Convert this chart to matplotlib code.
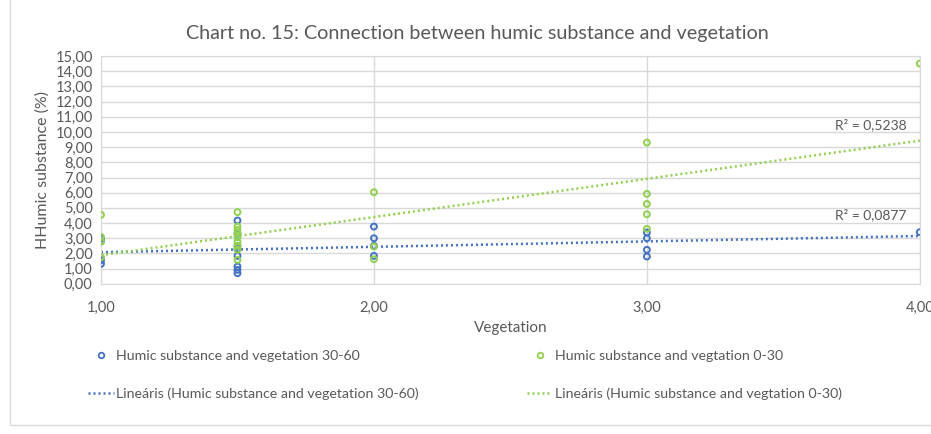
import matplotlib
matplotlib.use("Agg")
import matplotlib.pyplot as plt
import numpy as np
from matplotlib.lines import Line2D
from matplotlib.ticker import FuncFormatter, MultipleLocator

plt.rcParams["font.family"] = ["Lato", "DejaVu Sans"]

# ---------------- Data (some points hidden behind others) ----------------
veg_3060 = [1.0, 1.0, 1.0, 1.0, 1.5, 1.5, 1.5, 1.5, 1.5, 1.5, 1.5, 1.5,
            2.0, 2.0, 2.0, 2.0, 3.0, 3.0, 3.0, 3.0, 4.0]
hum_3060 = [1.55, 1.32, 3.00, 2.80, 4.17, 2.30, 1.84, 1.14, 0.92, 0.70, 3.30, 2.50,
            3.77, 3.00, 2.50, 1.84, 3.38, 3.00, 2.24, 1.80, 3.40]

veg_030 = [1.0, 1.0, 1.0, 1.0, 1.5, 1.5, 1.5, 1.5, 1.5, 1.5, 1.5, 1.5, 1.5,
           2.0, 2.0, 2.0, 3.0, 3.0, 3.0, 3.0, 3.0, 4.0]
hum_030 = [4.54, 3.08, 2.78, 1.75, 4.72, 3.77, 3.55, 3.33, 3.07, 2.78, 2.50, 2.24, 1.58,
           6.03, 2.45, 1.62, 9.30, 5.92, 5.26, 4.58, 3.62, 14.50]

r2_labels = ["R² = 0,0877", "R² = 0,5238"]

blue = "#4472C4"
green = "#92D050"
grey_txt = "#595959"
dots = (0, (0.8, 1.2))

fig = plt.figure(figsize=(9.31, 4.34), dpi=100)
ax = fig.add_axes([0.1085, 0.346, 0.8795, 0.525])

ax.scatter(veg_3060, hum_3060, s=18, facecolors="none", edgecolors=blue, linewidths=1.4, zorder=3)
ax.scatter(veg_030, hum_030, s=18, facecolors="none", edgecolors=green, linewidths=1.4, zorder=3)

# linear trend lines
xs = np.array([1.0, 4.0])
for vx, vy, c in [(veg_3060, hum_3060, blue), (veg_030, hum_030, green)]:
    k, b = np.polyfit(vx, vy, 1)
    ax.plot(xs, k * xs + b, color=c, lw=1.8, ls=dots, zorder=2)

ax.text(3.95, 4.55, r2_labels[0], ha="right", va="center", fontsize=10, color=grey_txt)
ax.text(3.95, 10.45, r2_labels[1], ha="right", va="center", fontsize=10, color=grey_txt)

ax.set_xlim(1, 4)
ax.set_ylim(0, 15)
ax.xaxis.set_major_locator(MultipleLocator(1))
ax.yaxis.set_major_locator(MultipleLocator(1))
fmt = FuncFormatter(lambda v, p: f"{v:.2f}".replace(".", ","))
ax.xaxis.set_major_formatter(fmt)
ax.yaxis.set_major_formatter(fmt)
ax.grid(True, color="#D9D9D9", lw=1)
ax.set_axisbelow(True)
for s in ax.spines.values():
    s.set_color("#D9D9D9")
ax.tick_params(length=0, labelsize=10.5, colors=grey_txt, pad=6)
ax.tick_params(axis="x", pad=12)

ax.set_xlabel("Vegetation", fontsize=11, color=grey_txt, labelpad=5)
ax.set_ylabel("HHumic substance (%)", fontsize=11.5, color=grey_txt, labelpad=4)
fig.text(0.513, 0.922, "Chart no. 15: Connection between humic substance and vegetation",
         ha="center", va="center", fontsize=14.2, color=grey_txt)

handles = [
    Line2D([], [], ls="none", marker="o", ms=4, mfc="none", mec=blue, mew=1.3),
    Line2D([], [], color=blue, lw=1.8, ls=dots),
    Line2D([], [], ls="none", marker="o", ms=4, mfc="none", mec=green, mew=1.3),
    Line2D([], [], color=green, lw=1.8, ls=dots),
]
labels = [
    "Humic substance and vegetation 30-60",
    "Lineáris (Humic substance and vegetation 30-60)",
    "Humic substance and vegtation 0-30",
    "Lineáris (Humic substance and vegtation 0-30)",
]
fig.legend(handles, labels, ncol=2, loc="upper left", bbox_to_anchor=(0.081, 0.222),
           frameon=False, fontsize=10.2, labelcolor=grey_txt, handlelength=1.8,
           handletextpad=0.2, columnspacing=7.6, labelspacing=1.8)

# chart area border
fig.patches.append(plt.Rectangle((0.011, 0.02), 1.2, 1.2, transform=fig.transFigure,
                                 fill=False, edgecolor="#D9D9D9", lw=1))

fig.savefig("out.png", dpi=100)
